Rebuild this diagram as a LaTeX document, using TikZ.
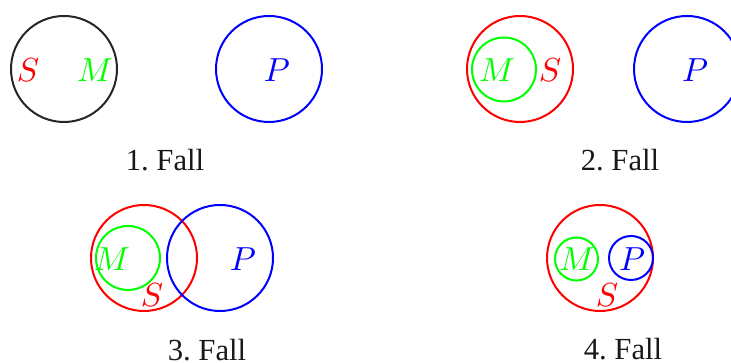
\documentclass[tikz,border=0pt]{standalone}
\usepackage[no-math]{fontspec}
\setmainfont{Liberation Serif}
\begin{document}
\begin{tikzpicture}[x=0.3pt,y=-0.3pt,
  ring/.style={circle,draw,line width=0.6pt,inner sep=0pt,minimum size=#1*0.6pt},
  lab/.style={inner sep=0pt,font=\fontsize{9.6}{11}\selectfont},
  falltext/.style={inner sep=0pt,font=\rmfamily\fontsize{9.2}{11}\selectfont,text=black!90}]
\useasboundingbox (0,0) rectangle (731,363);
% Fall 1
\node[ring=53,draw=black!85] (s1) at (64,69) {};
\node[lab,text=red] (s1l) at (28,70) {$S$};
\node[lab,text=green] (m1l) at (95,70) {$M$};
\node[ring=53,draw=blue] (p1) at (269,69) {};
\node[lab,text=blue] (p1l) at (277,70) {$P$};
\node[falltext] (c1) at (165,160) {1.~Fall};
% Fall 2
\node[ring=53,draw=red] (s2) at (520,69) {};
\node[ring=32,draw=green] (m2) at (504,69.5) {};
\node[lab,text=green] (m2l) at (497,70) {$M$};
\node[lab,text=red] (s2l) at (550,70) {$S$};
\node[ring=53,draw=blue] (p2) at (687,69) {};
\node[lab,text=blue] (p2l) at (695,70) {$P$};
\node[falltext] (c2) at (620,160) {2.~Fall};
% Fall 3
\node[ring=53,draw=red] (s3) at (144,258) {};
\node[ring=32,draw=green] (m3) at (128,258) {};
\node[lab,text=green] (m3l) at (112,259) {$M$};
\node[lab,text=red] (s3l) at (152,295) {$S$};
\node[ring=53,draw=blue] (p3) at (220,258) {};
\node[lab,text=blue] (p3l) at (243,259) {$P$};
\node[falltext] (c3) at (207,350) {3.~Fall};
% Fall 4
\node[ring=53,draw=red] (s4) at (600,258) {};
\node[ring=21.5,draw=green] (m4) at (576.5,259) {};
\node[ring=22,draw=blue] (p4) at (631,258) {};
\node[lab,text=green] (m4l) at (577,259) {$M$};
\node[lab,text=blue] (p4l) at (632,259) {$P$};
\node[lab,text=red] (s4l) at (607,295) {$S$};
\node[falltext] (c4) at (623,349) {4.~Fall};
\end{tikzpicture}
\end{document}
